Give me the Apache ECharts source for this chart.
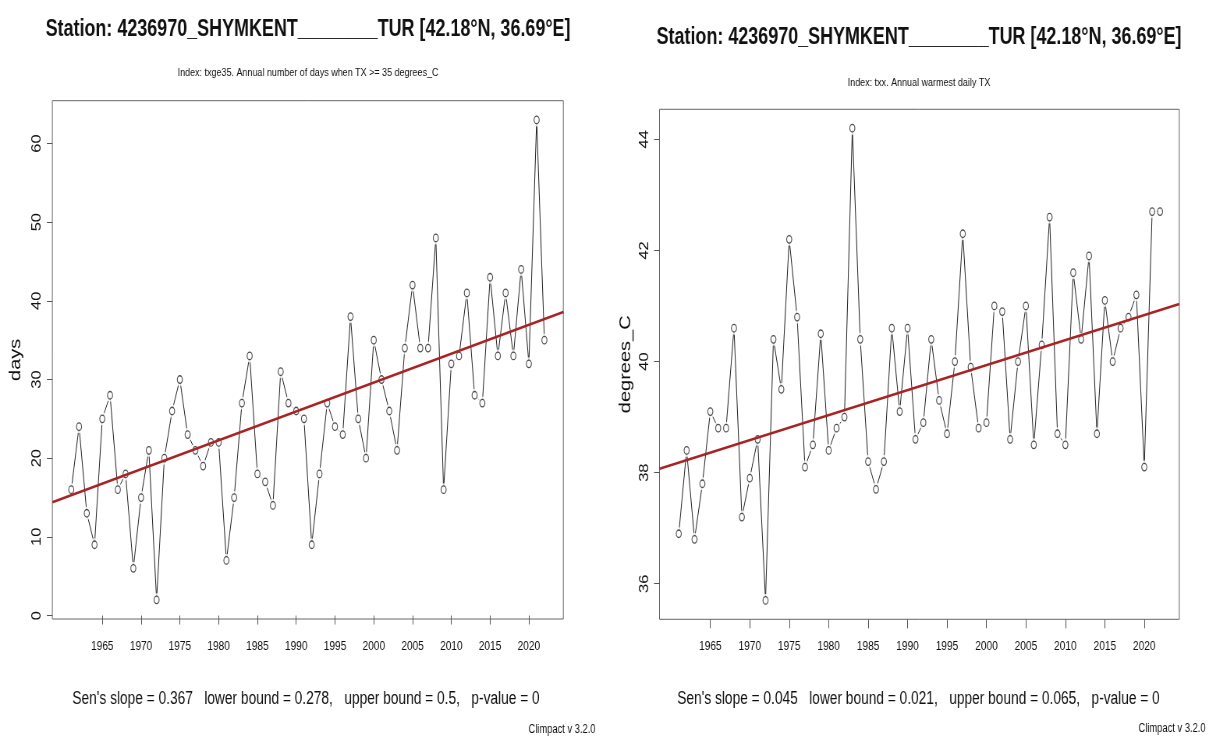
<!DOCTYPE html>
<html>
<head>
<meta charset="utf-8">
<title>Climpact txge35 / txx</title>
<script src="https://cdn.jsdelivr.net/npm/echarts@6/dist/echarts.min.js"></script>
<style>
  html, body { margin: 0; padding: 0; overflow: hidden; background: #fff; }
  /* the reference is a wide R plot squeezed horizontally, so draw wide and squeeze */
  #chart { width: 1551px; height: 736px; transform: scaleX(0.78); transform-origin: 0 0; }
</style>
</head>
<body>
<div id="chart"></div>
<script>
var years = [1961, 1962, 1963, 1964, 1965, 1966, 1967, 1968, 1969, 1970,
  1971, 1972, 1973, 1974, 1975, 1976, 1977, 1978, 1979, 1980,
  1981, 1982, 1983, 1984, 1985, 1986, 1987, 1988, 1989, 1990,
  1991, 1992, 1993, 1994, 1995, 1996, 1997, 1998, 1999, 2000,
  2001, 2002, 2003, 2004, 2005, 2006, 2007, 2008, 2009, 2010,
  2011, 2012, 2013, 2014, 2015, 2016, 2017, 2018, 2019, 2020,
  2021, 2022]

// txge35: days when TX >= 35
var txge35 = [16, 24, 13, 9, 25, 28, 16, 18, 6, 15,
  21, 2, 20, 26, 30, 23, 21, 19, 22, 22,
  7, 15, 27, 33, 18, 17, 14, 31, 27, 26,
  25, 9, 18, 27, 24, 23, 38, 25, 20, 35,
  30, 26, 21, 34, 42, 34, 34, 48, 16, 32,
  33, 41, 28, 27, 43, 33, 41, 33, 44, 32,
  63, 35]

// txx: annual warmest daily TX
var txx = [36.9, 38.4, 36.8, 37.8, 39.1, 38.8, 38.8, 40.6, 37.2, 37.9,
  38.6, 35.7, 40.4, 39.5, 42.2, 40.8, 38.1, 38.5, 40.5, 38.4,
  38.8, 39.0, 44.2, 40.4, 38.2, 37.7, 38.2, 40.6, 39.1, 40.6,
  38.6, 38.9, 40.4, 39.3, 38.7, 40.0, 42.3, 39.9, 38.8, 38.9,
  41.0, 40.9, 38.6, 40.0, 41.0, 38.5, 40.3, 42.6, 38.7, 38.5,
  41.6, 40.4, 41.9, 38.7, 41.1, 40.0, 40.6, 40.8, 41.2, 38.1,
  42.7, 42.7]

var xTicks = [1965, 1970, 1975, 1980, 1985, 1990, 1995, 2000, 2005, 2010, 2015, 2020]
var yTicksDays = [0, 10, 20, 30, 40, 50, 60]
var yTicksTxx = [36, 38, 40, 42, 44]

// Sen's slope trend: slope and fitted value in the first year
var trendDays = { slope: 0.367, first: 15.3 }
var trendTxx = { slope: 0.045, first: 38.18 }

var stationTitle = 'Station: 4236970_SHYMKENT________TUR [42.18°N, 36.69°E]'
var indexDays = 'Index: txge35. Annual number of days when TX >= 35 degrees_C'
var indexTxx = 'Index: txx. Annual warmest daily TX'
var senDays = "Sen's slope = 0.367   lower bound = 0.278,   upper bound = 0.5,   p-value = 0"
var senTxx = "Sen's slope = 0.045   lower bound = 0.021,   upper bound = 0.065,   p-value = 0"
var credit = 'Climpact v 3.2.0'

var font = "'Liberation Sans', Arial, sans-serif"
var oval = 'path://M0,50a50,50 0 1,0 100,0a50,50 0 1,0 -100,0z'

// R style axis range: data range padded 4% each side
function pad(vals) {
  var lo = Math.min.apply(null, vals)
  var hi = Math.max.apply(null, vals)
  var d = (hi - lo) * 0.04
  return [lo - d, hi + d]
}

var xr = pad(years)
var yrDays = pad(txge35)
var yrTxx = pad(txx)

function pairs(vals) {
  return years.map(function(y, i) { return [y, vals[i]] })
}

function trend(t) {
  return [
    [xr[0], t.first + t.slope * (xr[0] - years[0])],
    [xr[1], t.first + t.slope * (xr[1] - years[0])]
  ]
}

function xAxis(idx) {
  return {
    type: 'value',
    gridIndex: idx,
    min: xr[0],
    max: xr[1],
    axisLine: { show: false },
    splitLine: { show: false },
    axisTick: { show: true, customValues: xTicks, length: 9, lineStyle: { color: '#555', width: 1 } },
    axisLabel: {
      customValues: xTicks,
      margin: 21,
      fontSize: 13,
      color: '#111',
      fontFamily: font,
      formatter: function(v) { return String(v) }
    }
  }
}

function yAxis(idx, range, ticks, name, gap) {
  return {
    type: 'value',
    gridIndex: idx,
    min: range[0],
    max: range[1],
    name: name,
    nameLocation: 'middle',
    nameRotate: 90,
    nameGap: gap,
    nameTextStyle: { fontSize: 20, color: '#111', fontFamily: font },
    axisLine: { show: false },
    splitLine: { show: false },
    axisTick: { show: true, customValues: ticks, length: 7, lineStyle: { color: '#555', width: 1 } },
    axisLabel: {
      customValues: ticks,
      rotate: 90,
      margin: 11,
      fontSize: 16.5,
      color: '#111',
      fontFamily: font,
      formatter: function(v) { return String(v) }
    }
  }
}

function panelSeries(idx, vals, t) {
  return [
    {
      type: 'line',
      xAxisIndex: idx,
      yAxisIndex: idx,
      data: pairs(vals),
      symbol: 'none',
      silent: true,
      lineStyle: { color: '#222', width: 1 },
      z: 2
    },
    {
      // white halo so the line stops short of each "o", like type = "b"
      type: 'scatter',
      xAxisIndex: idx,
      yAxisIndex: idx,
      data: pairs(vals),
      symbol: 'circle',
      symbolSize: 13,
      silent: true,
      itemStyle: { color: '#fff' },
      z: 3
    },
    {
      type: 'scatter',
      xAxisIndex: idx,
      yAxisIndex: idx,
      data: pairs(vals),
      symbol: oval,
      symbolSize: [6.5, 7.5],
      itemStyle: { color: '#fff', borderColor: '#222', borderWidth: 1.2 },
      z: 4
    },
    {
      type: 'line',
      xAxisIndex: idx,
      yAxisIndex: idx,
      data: trend(t),
      symbol: 'none',
      silent: true,
      lineStyle: { color: '#a82424', width: 2.6 },
      z: 5
    }
  ]
}

function label(text, x, y, size, bold) {
  return {
    type: 'text',
    x: x,
    y: y,
    style: {
      text: text,
      fontSize: size,
      fontWeight: bold ? 'bold' : 'normal',
      fontFamily: font,
      fill: '#111',
      textAlign: 'center',
      textVerticalAlign: 'middle'
    }
  }
}

var chart = echarts.init(document.getElementById('chart'))
chart.setOption({
  backgroundColor: '#fff',
  animation: false,
  grid: [
    { left: 67.1, top: 100.7, width: 655.1, height: 518.3, show: true, borderColor: '#666', borderWidth: 1 },
    { left: 845.5, top: 109.3, width: 666.4, height: 510, show: true, borderColor: '#666', borderWidth: 1 }
  ],
  xAxis: [xAxis(0), xAxis(1)],
  yAxis: [
    yAxis(0, yrDays, yTicksDays, 'days', 37),
    yAxis(1, yrTxx, yTicksTxx, 'degrees_C', 33)
  ],
  series: panelSeries(0, txge35, trendDays).concat(panelSeries(1, txx, trendTxx)),
  graphic: [
    label(stationTitle, 394.9, 30, 23, true),
    label(stationTitle, 1178.2, 38, 23, true),
    label(indexDays, 394.9, 73, 11.5),
    label(indexTxx, 1178.2, 83, 11.5),
    label(senDays, 392.3, 699, 17.6),
    label(senTxx, 1177.6, 699, 17.6),
    label(credit, 720.5, 730, 12),
    label(credit, 1502.6, 729, 12)
  ]
})
</script>
</body>
</html>
